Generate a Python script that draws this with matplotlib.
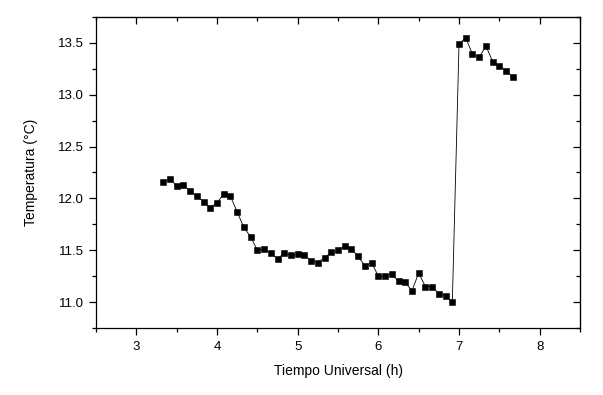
import matplotlib
matplotlib.use('Agg')
import matplotlib.pyplot as plt
import numpy as np
from matplotlib.ticker import MultipleLocator, FormatStrFormatter

# time in hours (5 min steps), temperature in degrees C
tiempo = [3.333, 3.417, 3.5, 3.583, 3.667, 3.75, 3.833, 3.917, 4.0, 4.083,
          4.167, 4.25, 4.333, 4.417, 4.5, 4.583, 4.667, 4.75, 4.833, 4.917,
          5.0, 5.083, 5.167, 5.25, 5.333, 5.417, 5.5, 5.583, 5.667, 5.75,
          5.833, 5.917, 6.0, 6.083, 6.167, 6.25, 6.333, 6.417, 6.5, 6.583,
          6.667, 6.75, 6.833, 6.917, 7.0, 7.083, 7.167, 7.25, 7.333, 7.417,
          7.5, 7.583, 7.667]
temperatura = [12.16, 12.19, 12.12, 12.13, 12.07, 12.02, 11.97, 11.91, 11.96, 12.04,
               12.02, 11.87, 11.72, 11.63, 11.50, 11.51, 11.47, 11.42, 11.47, 11.45,
               11.46, 11.45, 11.40, 11.38, 11.43, 11.48, 11.50, 11.54, 11.51, 11.44,
               11.35, 11.38, 11.25, 11.25, 11.27, 11.20, 11.19, 11.11, 11.28, 11.15,
               11.15, 11.08, 11.06, 11.00, 13.49, 13.55, 13.39, 13.36, 13.47, 13.32,
               13.28, 13.23, 13.17]

plt.rcParams['font.family'] = ['Liberation Sans', 'DejaVu Sans']

fig = plt.figure(figsize=(6.03, 3.95), dpi=100)
ax = fig.add_axes([0.1592, 0.1696, 0.8027, 0.7874])

ax.plot(tiempo, temperatura, color='black', lw=0.6, marker='s', ms=4.8,
        mew=0.4, mfc='black', mec='black')

ax.set_xlim(2.5, 8.5)
ax.set_ylim(10.75, 13.75)
ax.xaxis.set_major_locator(MultipleLocator(1))
ax.xaxis.set_minor_locator(MultipleLocator(0.5))
ax.yaxis.set_major_locator(MultipleLocator(0.5))
ax.yaxis.set_minor_locator(MultipleLocator(0.25))
ax.yaxis.set_major_formatter(FormatStrFormatter('%.1f'))

for s in ax.spines.values():
    s.set_linewidth(0.9)

ax.tick_params(which='both', direction='out', width=0.9, labelsize=9.5,
               top=False, right=False)
ax.tick_params(which='major', length=5, pad=4)
ax.tick_params(which='minor', length=3)

# mirrored inward ticks on top and right
ax_top = ax.secondary_xaxis('top')
ax_top.xaxis.set_major_locator(MultipleLocator(1))
ax_top.xaxis.set_minor_locator(MultipleLocator(0.5))
ax_top.tick_params(which='both', direction='in', width=0.9, labeltop=False)
ax_top.tick_params(which='major', length=5)
ax_top.tick_params(which='minor', length=3)
ax_right = ax.secondary_yaxis('right')
ax_right.yaxis.set_major_locator(MultipleLocator(0.5))
ax_right.yaxis.set_minor_locator(MultipleLocator(0.25))
ax_right.tick_params(which='both', direction='in', width=0.9, labelright=False)
ax_right.tick_params(which='major', length=5)
ax_right.tick_params(which='minor', length=3)

ax.set_xlabel('Tiempo Universal (h)', fontsize=10, labelpad=8)
ax.set_ylabel('Temperatura (°C)', fontsize=10, labelpad=14)

fig.savefig('out.png', dpi=100)
